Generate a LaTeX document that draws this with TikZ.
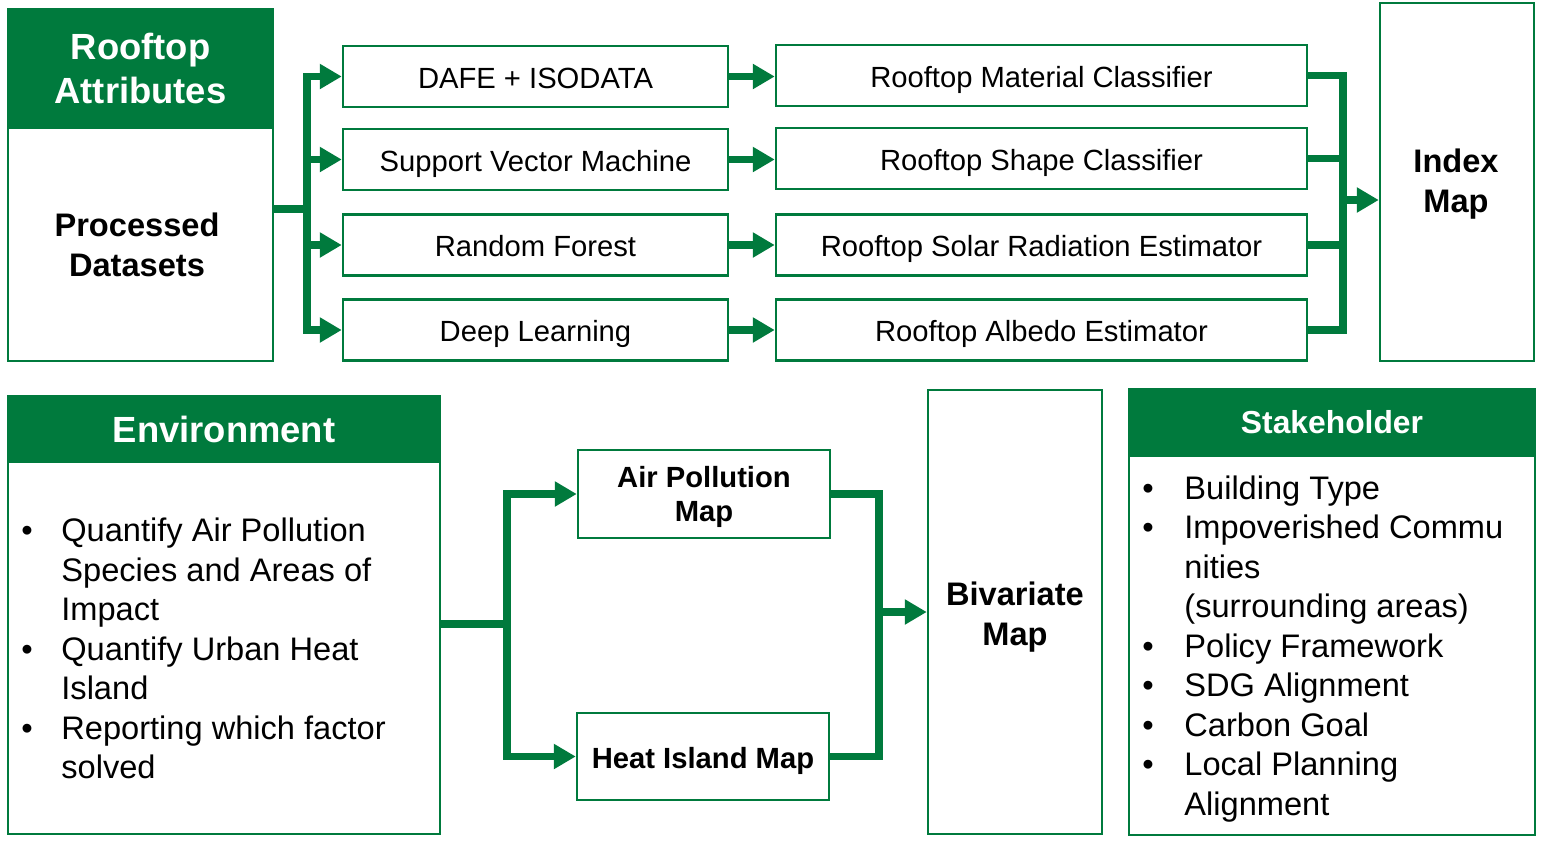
\documentclass[tikz,border=0pt]{standalone}
\usepackage{fontspec}
\setmainfont{Liberation Sans}
\usetikzlibrary{arrows.meta,calc}
\definecolor{G}{HTML}{007A3D}
\begin{document}
\begin{tikzpicture}[x=0.5pt,y=-0.5pt,
  box/.style={draw=G, line width=1.25pt, rectangle, inner sep=0pt, align=center},
  lbl/.style={text height=12.5pt, text depth=0.6pt},
  mbox/.style={box, lbl, minimum width=192.5pt, minimum height=30.5pt, font=\fontsize{14.6}{17}\selectfont},
  rbox/.style={box, lbl, minimum width=265.5pt, minimum height=30.5pt, font=\fontsize{14.6}{17}\selectfont},
  head/.style={box, fill=G, text=white, font=\bfseries\fontsize{18.2}{22}\selectfont},
  btitle/.style={font=\bfseries\fontsize{16.3}{20}\selectfont, align=center, inner sep=0pt},
  conn/.style={draw=G, line width=3.8pt},
  arr/.style={conn, -{Triangle[length=11pt,width=12pt]}},
  blist/.style={inner sep=0pt, anchor=west, font=\fontsize{16.3}{19.75}\selectfont}
]
\useasboundingbox (0,0) rectangle (1543,842);

% Rooftop attributes
\node[box, minimum width=132.5pt, minimum height=176pt] (rt) at (140.5,185) {};
\node[head, minimum width=132.5pt, minimum height=59.5pt] (rth) at (140.5,68.5) {Rooftop\\Attributes};
\node[btitle] (pd) at (137,244.5) {Processed\\Datasets};

% middle column
\node[mbox] (m1) at (535.5,76.5) {DAFE + ISODATA};
\node[mbox] (m2) at (535.5,159.5) {Support Vector Machine};
\node[mbox] (m3) at (535.5,245) {Random Forest};
\node[mbox] (m4) at (535.5,330) {Deep Learning};

% right column
\node[rbox] (r1) at (1041.5,75.5) {Rooftop Material Classifier};
\node[rbox] (r2) at (1041.5,158.5) {Rooftop Shape Classifier};
\node[rbox] (r3) at (1041.5,245) {Rooftop Solar Radiation Estimator};
\node[rbox] (r4) at (1041.5,330) {Rooftop Albedo Estimator};

% index map
\node[box, minimum width=77pt, minimum height=179pt] (idx) at (1457,182) {};
\node[btitle] (idxt) at (1456,184.5) {Index\\Map};

% connectors top
\coordinate (j1) at (307,209);
\draw[conn] (rt.east |- j1) -- (j1);
\draw[arr] (j1) |- (m1.west);
\draw[arr] (j1) |- (m2.west);
\draw[arr] (j1) |- (m3.west);
\draw[arr] (j1) |- (m4.west);
\draw[arr] (m1.east) -- (m1.east -| r1.west);
\draw[arr] (m2.east) -- (m2.east -| r2.west);
\draw[arr] (m3.east) -- (m3.east -| r3.west);
\draw[arr] (m4.east) -- (m4.east -| r4.west);
\coordinate (j2) at (1343,200);
\draw[conn] (r1.east) -| (j2);
\draw[conn] (r2.east) -| (j2);
\draw[conn] (r3.east) -| (j2);
\draw[conn] (r4.east) -| (j2);
\draw[arr] (j2) -- (j2 -| idx.west);

% Environment
\node[box, minimum width=216pt, minimum height=219pt] (env) at (224,615) {};
\node[head, minimum width=216pt, minimum height=33pt] (envh) at (224,429) {Environment};
\node[blist] (envl) at (21,652.5) {\begin{tabular}{@{}p{20pt}@{}l@{}}
\textbullet & Quantify Air Pollution\\
 & Species and Areas of\\
 & Impact\\
\textbullet & Quantify Urban Heat\\
 & Island\\
\textbullet & Reporting which factor\\
 & solved
\end{tabular}};

% maps
\node[box, minimum width=126pt, minimum height=44pt] (ap) at (704,494) {};
\node[btitle, font=\bfseries\fontsize{14.6}{17}\selectfont] (apt) at (704,497) {Air Pollution\\Map};
\node[box, lbl, minimum width=126pt, minimum height=43.5pt, font=\bfseries\fontsize{14.6}{17}\selectfont] (hi) at (703,756.5) {Heat Island Map};
\node[box, minimum width=87pt, minimum height=222pt] (biv) at (1015,612) {};
\node[btitle] (bivt) at (1015,617) {Bivariate\\Map};

\coordinate (j3) at (507,624);
\draw[conn] (env.east |- j3) -- (j3);
\draw[arr] (j3) |- (ap.west);
\draw[arr] (j3) |- (hi.west);
\coordinate (j4) at (879,612);
\draw[conn] (ap.east) -| (j4);
\draw[conn] (hi.east) -| (j4);
\draw[arr] (j4) -- (j4 -| biv.west);

% Stakeholder
\node[box, minimum width=203pt, minimum height=223pt] (stk) at (1332,612) {};
\node[head, minimum width=203pt, minimum height=33.5pt, font=\bfseries\fontsize{15.9}{19}\selectfont] (stkh) at (1332,422.5) {Stakeholder};
\node[blist] (stkl) at (1142,649.5) {\begin{tabular}{@{}p{21pt}@{}l@{}}
\textbullet & Building Type\\
\textbullet & Impoverished Commu\\
 & nities\\
 & (surrounding areas)\\
\textbullet & Policy Framework\\
\textbullet & SDG Alignment\\
\textbullet & Carbon Goal\\
\textbullet & Local Planning\\
 & Alignment
\end{tabular}};
\end{tikzpicture}
\end{document}
